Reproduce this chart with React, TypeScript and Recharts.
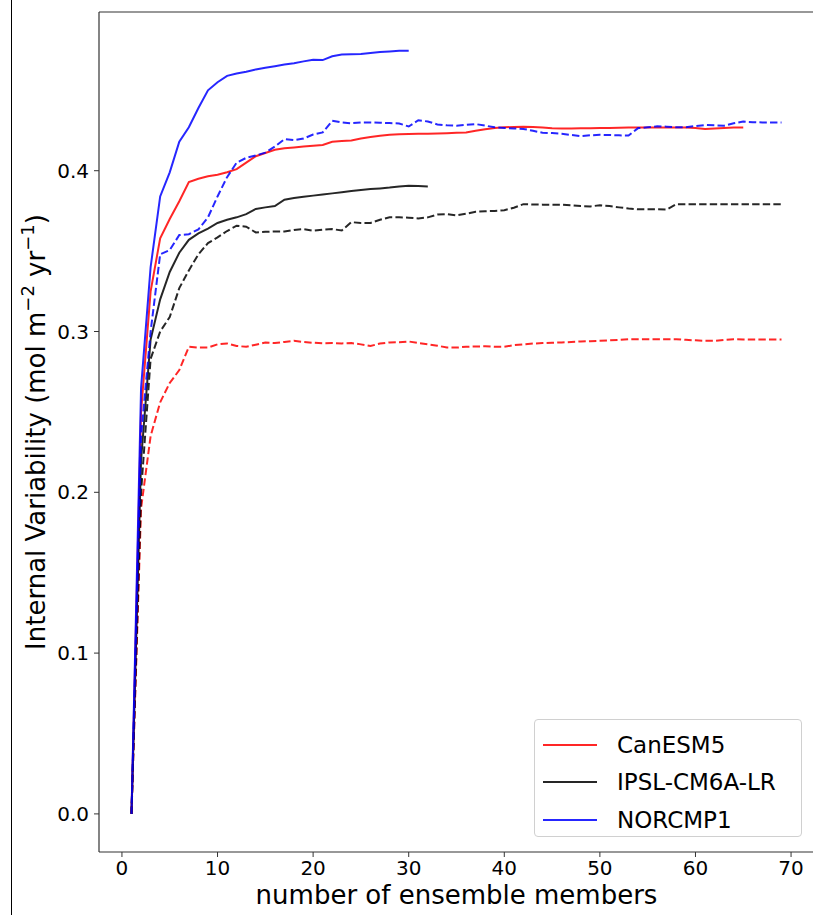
import { LineChart, Line, XAxis, YAxis, Legend, ReferenceLine } from 'recharts'

// Varianza interna vs. número de miembros del ensemble
const xTicks = [0, 10, 20, 30, 40, 50, 60, 70]
const yTicks = [0, 0.1, 0.2, 0.3, 0.4]
const xDomain = [-2.4, 72.4]
const yDomain = [-0.0237, 0.4987]

// sólidas
const canesm5 = [
  0, 0.25, 0.325, 0.358, 0.37, 0.381, 0.393, 0.395, 0.3965, 0.3975,
  0.399, 0.401, 0.405, 0.409, 0.411, 0.413, 0.414, 0.4145, 0.415, 0.4155,
  0.416, 0.418, 0.4185, 0.4188, 0.42, 0.421, 0.4218, 0.4224, 0.4226, 0.4228,
  0.423, 0.423, 0.4231, 0.4233, 0.4236, 0.4238, 0.4248, 0.4258, 0.4265, 0.427,
  0.4272, 0.4274, 0.4272, 0.4268, 0.4264, 0.4263, 0.4263, 0.4264, 0.4264, 0.4265,
  0.4266, 0.4267, 0.4268, 0.4269, 0.4269, 0.4269, 0.4269, 0.4269, 0.4268, 0.4266,
  0.426, 0.4262, 0.4265, 0.4268, 0.4269,
]
const ipsl = [
  0, 0.22, 0.295, 0.32, 0.337, 0.349, 0.357, 0.361, 0.364, 0.3675,
  0.3695, 0.371, 0.373, 0.3762, 0.3772, 0.378, 0.382, 0.383, 0.3838, 0.3845,
  0.3852, 0.3859, 0.3866, 0.3874, 0.388, 0.3886, 0.389, 0.3895, 0.3902, 0.3907,
  0.3905, 0.3902,
]
const norcpm1 = [
  0, 0.265, 0.34, 0.384, 0.399, 0.418, 0.427, 0.439, 0.45, 0.455,
  0.459, 0.4605, 0.4615, 0.463, 0.464, 0.465, 0.466, 0.4668, 0.468, 0.469,
  0.4688, 0.4712, 0.4722, 0.4724, 0.4726, 0.4732, 0.4738, 0.4742, 0.4746, 0.4746,
]

// discontinuas
const canesm5Dash = [
  0, 0.19, 0.235, 0.256, 0.268, 0.276, 0.2905, 0.29, 0.29, 0.292,
  0.2926, 0.291, 0.2905, 0.2918, 0.2932, 0.2928, 0.2935, 0.2942, 0.2935, 0.293,
  0.2926, 0.2928, 0.2926, 0.2928, 0.292, 0.291, 0.2925, 0.2932, 0.2933, 0.2938,
  0.2928, 0.292, 0.2912, 0.29, 0.29, 0.2905, 0.2907, 0.2908, 0.2905, 0.2905,
  0.2915, 0.292, 0.2925, 0.2928, 0.293, 0.2932, 0.2935, 0.2938, 0.294, 0.2942,
  0.2945, 0.2948, 0.2952, 0.2952, 0.2952, 0.2952, 0.2952, 0.2952, 0.2948, 0.2945,
  0.2942, 0.2942, 0.2948, 0.2952, 0.295, 0.295, 0.295, 0.295, 0.295,
]
const ipslDash = [
  0, 0.2, 0.283, 0.3, 0.309, 0.327, 0.338, 0.348, 0.355, 0.3585,
  0.3625, 0.3658, 0.3652, 0.3616, 0.362, 0.3622, 0.3622, 0.3632, 0.3637, 0.3627,
  0.3633, 0.3637, 0.3628, 0.368, 0.3675, 0.3675, 0.3695, 0.371, 0.371, 0.3708,
  0.3703, 0.371, 0.3727, 0.373, 0.3722, 0.3732, 0.3745, 0.3748, 0.375, 0.3754,
  0.377, 0.3792, 0.379, 0.3789, 0.3788, 0.3788, 0.3785, 0.378, 0.3778, 0.3785,
  0.378, 0.3772, 0.3765, 0.376, 0.376, 0.376, 0.3759, 0.3792, 0.3792, 0.3792,
  0.3792, 0.3792, 0.3792, 0.3792, 0.3792, 0.3792, 0.3792, 0.3792, 0.3792,
]
const norcpm1Dash = [
  0, 0.235, 0.3, 0.348, 0.3506, 0.36, 0.3605, 0.3635, 0.371, 0.384,
  0.396, 0.405, 0.408, 0.4095, 0.4112, 0.415, 0.4196, 0.419, 0.42, 0.4225,
  0.4238, 0.431, 0.43, 0.4295, 0.43, 0.43, 0.4298, 0.4296, 0.4294, 0.4275,
  0.4314, 0.4306, 0.4288, 0.4282, 0.428, 0.4285, 0.429, 0.428, 0.427, 0.4266,
  0.4263, 0.426, 0.4248, 0.4236, 0.4234, 0.423, 0.4222, 0.4215, 0.422, 0.4223,
  0.4222, 0.422, 0.4219, 0.4265, 0.427, 0.4276, 0.4274, 0.427, 0.427, 0.4278,
  0.4284, 0.4282, 0.428, 0.4295, 0.4306, 0.4302, 0.43, 0.43, 0.43,
]

const FONT = '"DejaVu Sans", sans-serif'
const RED = '#ff0000'
const BLACK = '#000000'
const BLUE = '#0000ff'
const SPINE = '#333'

const toPoints = (vals: number[]) => vals.map((v, i) => ({ n: i + 1, v }))

const series = [
  { name: 'CanESM5', color: RED, data: canesm5, dashed: false },
  { name: 'IPSL-CM6A-LR', color: BLACK, data: ipsl, dashed: false },
  { name: 'NORCMP1', color: BLUE, data: norcpm1, dashed: false },
  { name: 'CanESM5 dash', color: RED, data: canesm5Dash, dashed: true },
  { name: 'IPSL-CM6A-LR dash', color: BLACK, data: ipslDash, dashed: true },
  { name: 'NORCMP1 dash', color: BLUE, data: norcpm1Dash, dashed: true },
]

function YLabel(props: any) {
  const vb = props.viewBox
  const cx = 36
  const cy = vb ? vb.y + vb.height / 2 : 432
  return (
    <text
      x={cx}
      y={cy}
      transform={`rotate(-90, ${cx}, ${cy})`}
      textAnchor="middle"
      dominantBaseline="central"
      fontSize={26}
      fontFamily={FONT}
      fill="#000"
    >
      Internal Variability (mol m
      <tspan dy={-9} fontSize={18}>−2</tspan>
      <tspan dy={9}> yr</tspan>
      <tspan dy={-9} fontSize={18}>−1</tspan>
      <tspan dy={9}>)</tspan>
    </text>
  )
}

function LegendBox() {
  const items = series.filter((s) => !s.dashed)
  return (
    <div
      style={{
        width: 268,
        height: 118,
        border: '1px solid #d0d0d0',
        borderRadius: 4,
        background: 'rgba(255,255,255,0.8)',
        boxSizing: 'border-box',
        paddingTop: 6,
        fontFamily: FONT,
      }}
    >
      {items.map((s) => (
        <div key={s.name} style={{ display: 'flex', alignItems: 'center', height: 37.5 }}>
          <span
            style={{
              display: 'inline-block',
              marginLeft: 8,
              width: 54,
              height: 2,
              background: s.color,
              opacity: 0.85,
            }}
          />
          <span style={{ marginLeft: 20, fontSize: 23, color: '#000' }}>{s.name}</span>
        </div>
      ))}
    </div>
  )
}

export default function App() {
  return (
    <div
      style={{
        position: 'absolute',
        left: 0,
        top: 0,
        width: 813,
        height: 915,
        overflow: 'hidden',
        background: '#fff',
      }}
    >
      <div
        style={{ position: 'absolute', left: 11, top: 0, width: 1, height: 915, background: '#000' }}
      />
      <LineChart
        width={830}
        height={915}
        margin={{ top: 12, right: 16, bottom: 0, left: 0 }}
        style={{ position: 'absolute', left: 0, top: 0 }}
      >
        <XAxis
          type="number"
          dataKey="n"
          domain={xDomain}
          allowDataOverflow
          ticks={xTicks}
          height={63}
          tickSize={5}
          tickMargin={4}
          axisLine={{ stroke: SPINE, strokeWidth: 1.2 }}
          tickLine={{ stroke: SPINE }}
          tick={{ fontSize: 20, fill: '#000', fontFamily: FONT }}
          label={{
            value: 'number of ensemble members',
            position: 'insideBottom',
            offset: 11,
            fontSize: 26,
            fill: '#000',
            fontFamily: FONT,
          }}
        />
        <YAxis
          type="number"
          domain={yDomain}
          allowDataOverflow
          ticks={yTicks}
          width={99}
          tickSize={5}
          tickMargin={5}
          tickFormatter={(v: number) => v.toFixed(1)}
          axisLine={{ stroke: SPINE, strokeWidth: 1.2 }}
          tickLine={{ stroke: SPINE }}
          tick={{ fontSize: 20, fill: '#000', fontFamily: FONT }}
          label={<YLabel />}
        />
        {/* marco superior del eje */}
        <ReferenceLine y={yDomain[1]} stroke={SPINE} strokeWidth={1.2} />
        {series.map((s) => (
          <Line
            key={s.name}
            data={toPoints(s.data)}
            dataKey="v"
            name={s.name}
            type="linear"
            stroke={s.color}
            strokeOpacity={0.85}
            strokeWidth={2}
            strokeDasharray={s.dashed ? '7.4 3.2' : undefined}
            dot={false}
            activeDot={false}
            legendType={s.dashed ? 'none' : 'line'}
            isAnimationActive={false}
          />
        ))}
        <Legend
          layout="vertical"
          align="center"
          verticalAlign="middle"
          content={() => <LegendBox />}
          wrapperStyle={{ position: 'absolute', left: 534, top: 719, width: 268, height: 118 }}
        />
      </LineChart>
    </div>
  )
}
